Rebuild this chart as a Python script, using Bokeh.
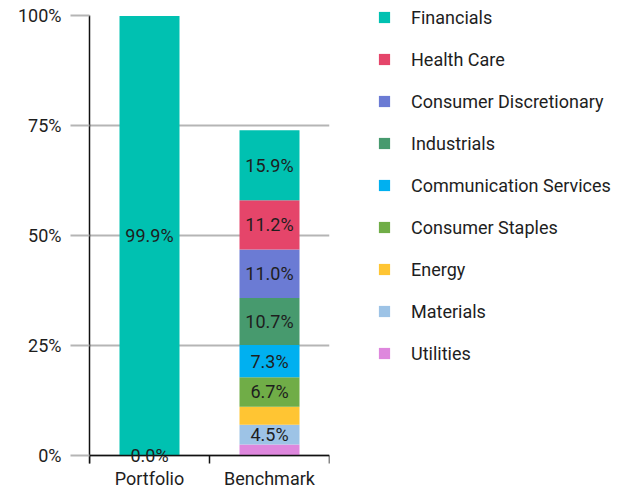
from bokeh.plotting import figure
from bokeh.models import (Range1d, FixedTicker, ColumnDataSource, LabelSet, Legend,
                          LegendItem, PrintfTickFormatter)
from bokeh.core.properties import value
from bokeh.embed import file_html
from bokeh.resources import INLINE

# ---------------- data ----------------
categories = ["Portfolio", "Benchmark"]
sectors = ["Utilities", "Materials", "Energy", "Consumer Staples", "Communication Services",
           "Industrials", "Consumer Discretionary", "Health Care", "Financials"]
colors = ["#DE87DD", "#9DC3E6", "#FFC533", "#70AD47", "#00B0F0",
          "#479A6E", "#6B7BD4", "#E5456A", "#00C1B1"]
portfolio = [0.0, 0.0, 0.0, 0.0, 0.0, 0.0, 0.0, 0.0, 99.9]
benchmark = [2.5, 4.5, 4.1, 6.7, 7.3, 10.7, 11.0, 11.2, 15.9]
portfolio_labels = ["0.0%", "", "", "", "", "", "", "", "99.9%"]
benchmark_labels = ["", "4.5%", "", "6.7%", "7.3%", "10.7%", "11.0%", "11.2%", "15.9%"]
y_ticks = [0, 25, 50, 75, 100]

FONT = "Roboto"
FS = "18px"
GRID = "#b5b5b5"
TXT = "#1e1e1e"

# ---------------- sources ----------------
xs = [i + 0.5 for i in range(len(categories))]
series = [portfolio, benchmark]
data = {"x": xs}
for j, s in enumerate(sectors):
    data[s] = [series[i][j] for i in range(len(categories))]
src = ColumnDataSource(data)

lx, ly, lt = [], [], []
for i, (vals, labs) in enumerate(zip(series, [portfolio_labels, benchmark_labels])):
    base = 0.0
    for v, t in zip(vals, labs):
        if t:
            lx.append(xs[i])
            ly.append(base + v / 2.0)
            lt.append(t)
        base += v
lsrc = ColumnDataSource(dict(x=lx, y=ly, text=lt))

# ---------------- figure ----------------
# frame: 240 x 473 px (4.4 px per percent); room below zero for the category labels
p = figure(frame_width=240, frame_height=473,
           x_range=Range1d(0, len(categories)), y_range=Range1d(-7.5, 100),
           output_backend="svg", toolbar_location=None,
           min_border_left=89, min_border_right=50, min_border_top=15, min_border_bottom=0)
p.outline_line_color = None
p.background_fill_color = "white"
p.border_fill_color = "white"

renderers = p.vbar_stack(sectors, x="x", width=0.5, fill_color=colors, line_color=None, source=src)

labels = LabelSet(x="x", y="y", text="text", source=lsrc, text_align="center",
                  text_baseline="middle", text_font=value(FONT), text_font_size=FS,
                  text_color=TXT)
p.add_layout(labels)

# y axis
p.yaxis.ticker = FixedTicker(ticks=y_ticks, minor_ticks=[])
p.yaxis.formatter = PrintfTickFormatter(format="%d%%")
p.yaxis.bounds = (-1.82, 100)
p.yaxis.major_tick_out = 19
p.yaxis.major_tick_in = 0
p.yaxis.major_tick_line_color = GRID
p.yaxis.major_tick_line_width = 2
p.yaxis.minor_tick_line_color = None
p.yaxis.axis_line_color = "#111111"
p.yaxis.axis_line_width = 1.5
p.yaxis.major_label_standoff = 9
p.yaxis.major_label_text_font = FONT
p.yaxis.major_label_text_font_size = FS
p.yaxis.major_label_text_color = TXT

# x axis
p.xaxis.ticker = FixedTicker(ticks=xs, minor_ticks=list(range(len(categories) + 1)))
p.xaxis.major_label_overrides = {x: c for x, c in zip(xs, categories)}
p.xaxis.fixed_location = 0
p.xaxis.major_tick_out = 0
p.xaxis.major_tick_in = 0
p.xaxis.minor_tick_out = 8
p.xaxis.minor_tick_in = 0
p.xaxis.minor_tick_line_color = "#111111"
p.xaxis.minor_tick_line_width = 1.5
p.xaxis.axis_line_color = "#111111"
p.xaxis.axis_line_width = 1.5
p.xaxis.major_label_standoff = 4
p.xaxis.major_label_text_font = FONT
p.xaxis.major_label_text_font_size = FS
p.xaxis.major_label_text_color = TXT

p.ygrid.ticker = FixedTicker(ticks=y_ticks, minor_ticks=[])
p.ygrid.grid_line_color = GRID
p.ygrid.grid_line_width = 2
p.xgrid.grid_line_color = None

# legend
items = [LegendItem(label=s, renderers=[r]) for s, r in zip(sectors, renderers)][::-1]
legend = Legend(items=items, location=(48, 124), glyph_width=14, glyph_height=14,
                label_height=22, spacing=20, label_standoff=20, padding=0, margin=0,
                border_line_color=None, background_fill_alpha=0,
                label_text_font=FONT, label_text_font_size=FS, label_text_color=TXT)
p.add_layout(legend, "right")

open("out.html", "w").write(file_html(p, INLINE))
